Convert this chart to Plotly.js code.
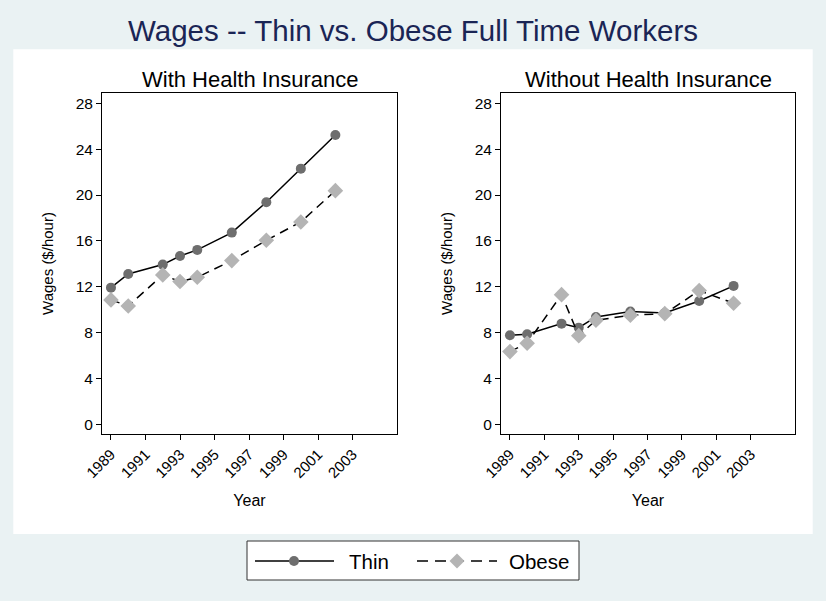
<!DOCTYPE html>
<html>
<head>
<meta charset="utf-8">
<script src="https://cdn.plot.ly/plotly-3.0.1.min.js"></script>
<style>html,body{margin:0;padding:0;background:#EAF2F3;}#chart{width:826px;height:601px;}</style>
</head>
<body>
<div id="chart"></div>
<script>
// ---- data ----
var years = [1989, 1990, 1992, 1993, 1994, 1996, 1998, 2000, 2002];
var thinWithIns   = [11.92, 13.11, 13.93, 14.68, 15.21, 16.72, 19.37, 22.30, 25.24];
var obeseWithIns  = [10.85, 10.32, 13.03, 12.45, 12.82, 14.28, 16.05, 17.65, 20.38];
var thinWithoutIns  = [7.76, 7.85, 8.78, 8.43, 9.36, 9.83, 9.71, 10.76, 12.07];
var obeseWithoutIns = [6.34, 7.07, 11.31, 7.73, 9.07, 9.51, 9.65, 11.66, 10.56];
var seriesNames = ['Thin', 'Obese'];
var panelTitles = ['With Health Insurance', 'Without Health Insurance'];
var xTickVals = [1989, 1991, 1993, 1995, 1997, 1999, 2001, 2003];
var xTickText = ['1989', '1991', '1993', '1995', '1997', '1999', '2001', '2003'];
var yTickVals = [0, 4, 8, 12, 16, 20, 24, 28];
var yTickText = ['0', '4', '8', '12', '16', '20', '24', '28'];
var chartTitle = 'Wages -- Thin vs. Obese Full Time Workers';
var xTitle = 'Year';
var yTitle = 'Wages ($/hour)';

// ---- styles ----
var FONT = 'Liberation Sans, Arial, sans-serif';
var thinStyle = {line: {color: '#000000', width: 1.5, dash: 'solid'},
                 marker: {symbol: 'circle', size: 10, color: '#6e6e6e'}};
var obeseStyle = {line: {color: '#000000', width: 1.5, dash: '9px,6px'},
                  marker: {symbol: 'diamond', size: 12, color: '#b4b4b4'}};

function mk(y, name, style, xa, ya) {
  return {x: years, y: y, name: name, type: 'scatter', mode: 'lines+markers',
          line: style.line, marker: style.marker, xaxis: xa, yaxis: ya,
          showlegend: false, hoverinfo: 'x+y+name'};
}

var traces = [
  mk(thinWithIns, seriesNames[0], thinStyle, 'x', 'y'),
  mk(obeseWithIns, seriesNames[1], obeseStyle, 'x', 'y'),
  mk(thinWithoutIns, seriesNames[0], thinStyle, 'x2', 'y2'),
  mk(obeseWithoutIns, seriesNames[1], obeseStyle, 'x2', 'y2')
];

var W = 826, H = 601;
function px(x) { return x / W; }
function py(y) { return 1 - y / H; }

function xAxis(domain, anchor) {
  return {domain: domain, anchor: anchor, range: [1988.48, 2005.57],
          tickmode: 'array', tickvals: xTickVals, ticktext: xTickText,
          tickangle: -45, ticks: 'outside', ticklen: 5, tickwidth: 1, tickcolor: '#000',
          showline: true, linecolor: '#000', linewidth: 1, mirror: true,
          showgrid: false, zeroline: false, automargin: false,
          tickfont: {family: FONT, size: 15, color: '#000'},
          title: {text: xTitle, font: {family: FONT, size: 16, color: '#000'}, standoff: 14}};
}
function yAxis(domain, anchor) {
  return {domain: domain, anchor: anchor, range: [-0.82, 28.87],
          tickmode: 'array', tickvals: yTickVals, ticktext: yTickText,
          ticks: 'outside', ticklen: 5, tickwidth: 1, tickcolor: '#000',
          showline: true, linecolor: '#000', linewidth: 1, mirror: true,
          showgrid: false, zeroline: false, automargin: false,
          tickfont: {family: FONT, size: 15.5, color: '#000'},
          title: {text: yTitle, font: {family: FONT, size: 15, color: '#000'}, standoff: 18}};
}

var yDom = [py(433.7), py(93.3)];

// legend built from series styles
var legY = 561;
var shapes = [
  {type: 'rect', xref: 'paper', yref: 'paper', layer: 'below',
   x0: px(13.3), x1: px(812.7), y0: py(534), y1: py(49.3),
   fillcolor: '#ffffff', line: {width: 0}},
  {type: 'rect', xref: 'paper', yref: 'paper',
   x0: px(247), x1: px(579), y0: py(580), y1: py(541),
   fillcolor: '#ffffff', line: {color: '#333333', width: 1}},
  {type: 'line', xref: 'paper', yref: 'paper', x0: px(255), x1: px(334), y0: py(legY), y1: py(legY),
   line: {color: thinStyle.line.color, width: thinStyle.line.width}},
  {type: 'circle', xref: 'paper', yref: 'paper', x0: px(289), x1: px(299), y0: py(legY + 5), y1: py(legY - 5),
   fillcolor: thinStyle.marker.color, line: {width: 0}},
  {type: 'line', xref: 'paper', yref: 'paper', x0: px(417), x1: px(497), y0: py(legY), y1: py(legY),
   line: {color: obeseStyle.line.color, width: obeseStyle.line.width, dash: '11px,7px'}},
  {type: 'path', xref: 'paper', yref: 'paper',
   path: 'M' + px(457) + ',' + py(legY - 7.5) + ' L' + px(464.5) + ',' + py(legY) + ' L' + px(457) + ',' + py(legY + 7.5) + ' L' + px(449.5) + ',' + py(legY) + ' Z',
   fillcolor: obeseStyle.marker.color, line: {width: 0}}
];

var annotations = [
  {text: panelTitles[0], xref: 'x domain', yref: 'paper', x: 0.5, y: py(79), xanchor: 'center', yanchor: 'middle',
   showarrow: false, font: {family: FONT, size: 22, color: '#000'}},
  {text: panelTitles[1], xref: 'x2 domain', yref: 'paper', x: 0.5, y: py(79), xanchor: 'center', yanchor: 'middle',
   showarrow: false, font: {family: FONT, size: 22, color: '#000'}},
  {text: seriesNames[0], xref: 'paper', yref: 'paper', x: px(347), y: py(legY), xanchor: 'left', yanchor: 'middle',
   showarrow: false, font: {family: FONT, size: 20.5, color: '#000'}},
  {text: seriesNames[1], xref: 'paper', yref: 'paper', x: px(507), y: py(legY), xanchor: 'left', yanchor: 'middle',
   showarrow: false, font: {family: FONT, size: 20.5, color: '#000'}}
];

var layout = {
  width: W, height: H,
  margin: {l: 0, r: 0, t: 0, b: 0, pad: 0},
  paper_bgcolor: '#EAF2F3', plot_bgcolor: '#ffffff',
  showlegend: false,
  title: {text: chartTitle, x: 0.5, xanchor: 'center', xref: 'paper', y: py(31), yanchor: 'middle', yref: 'paper',
          font: {family: FONT, size: 29.5, color: '#1a2555'}},
  xaxis: xAxis([px(102), px(397)], 'y'),
  yaxis: yAxis(yDom, 'x'),
  xaxis2: xAxis([px(501), px(795)], 'y2'),
  yaxis2: yAxis(yDom, 'x2'),
  shapes: shapes,
  annotations: annotations
};

Plotly.newPlot('chart', traces, layout, {displayModeBar: false, staticPlot: true});
</script>
</body>
</html>
